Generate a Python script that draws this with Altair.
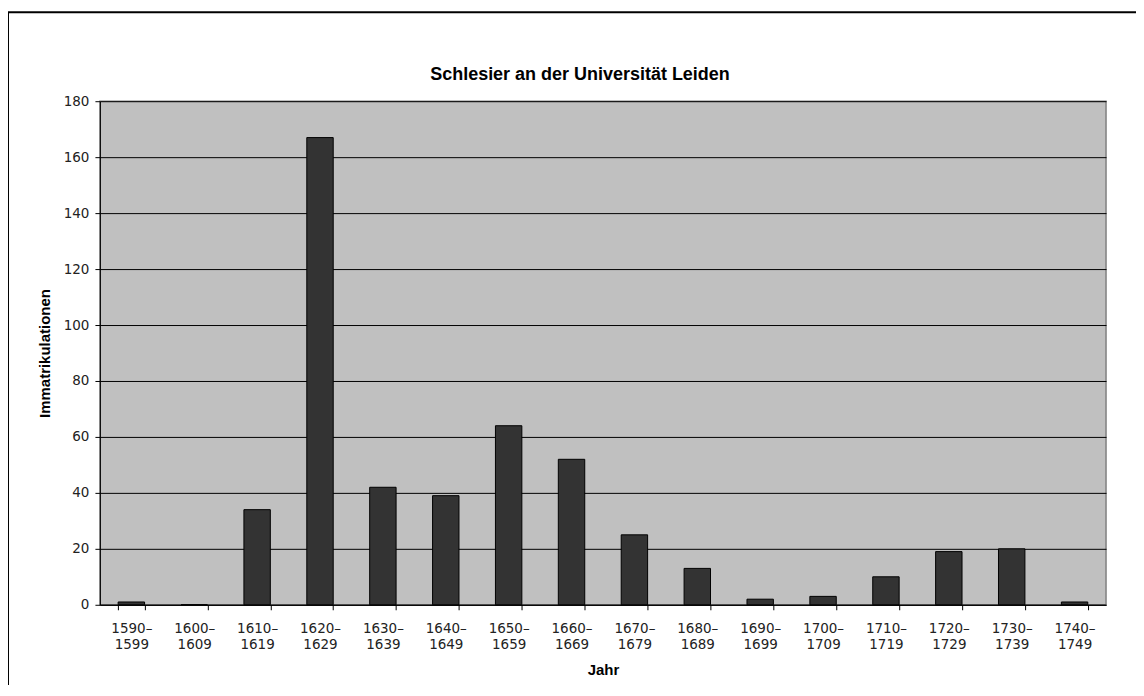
import altair as alt
import pandas as pd

categories = ["1590–1599", "1600–1609", "1610–1619", "1620–1629", "1630–1639",
              "1640–1649", "1650–1659", "1660–1669", "1670–1679", "1680–1689",
              "1690–1699", "1700–1709", "1710–1719", "1720–1729", "1730–1739",
              "1740–1749"]
values = [1, 0, 34, 167, 42, 39, 64, 52, 25, 13, 2, 3, 10, 19, 20, 1]
y_ticks = [0, 20, 40, 60, 80, 100, 120, 140, 160, 180]
title_text = "Schlesier an der Universität Leiden"

df = pd.DataFrame({"Jahr": categories, "Immatrikulationen": values})

W, H = 1007, 504

bars = alt.Chart(df).mark_bar(color="#333333", stroke="#000000", strokeWidth=1).encode(
    x=alt.X("Jahr:N", sort=categories,
            scale=alt.Scale(paddingInner=0.58, paddingOuter=0.29),
            axis=alt.Axis(title="Jahr", labelAngle=0,
                          labelExpr="[substring(datum.label,0,5), substring(datum.label,5)]",
                          labelFont="DejaVu Sans", labelFontSize=13.5, labelColor="#222222",
                          labelLineHeight=16, labelPadding=12,
                          tickBand="extent", tickSize=5, tickColor="#000000",
                          domainColor="#000000", grid=False,
                          titleFont="Liberation Sans", titleFontSize=15, titleFontWeight="bold",
                          titleColor="#000000", titleY=65, titleBaseline="middle")),
    y=alt.Y("Immatrikulationen:Q",
            scale=alt.Scale(domain=[0, 180], nice=False),
            axis=alt.Axis(title="Immatrikulationen", values=y_ticks,
                          labelFont="DejaVu Sans", labelFontSize=13.5, labelColor="#222222",
                          labelPadding=6, tickSize=5, tickColor="#000000",
                          domainColor="#000000", gridColor="#000000", gridWidth=1,
                          titleFont="Liberation Sans", titleFontSize=15, titleFontWeight="bold",
                          titleColor="#000000", titleX=-55, titleY=H / 2,
                          titleAngle=-90, titleBaseline="middle", titleAlign="center")),
)

frame_df = pd.DataFrame({"a": [0]})
frame_left = alt.Chart(frame_df).mark_rule(color="#000000", strokeWidth=2).encode(
    x=alt.value(-92), y=alt.value(-89), y2=alt.value(H + 120))
frame_top = alt.Chart(frame_df).mark_rule(color="#000000", strokeWidth=2).encode(
    x=alt.value(-92), x2=alt.value(W + 60), y=alt.value(-89))
title_mark = alt.Chart(frame_df).mark_text(
    font="Liberation Sans", fontSize=18, fontWeight="bold", color="#000000",
    align="center", baseline="middle").encode(
    x=alt.value(W / 2 - 23), y=alt.value(-26), text=alt.value(title_text))

chart = alt.layer(frame_left, frame_top, title_mark, bars).properties(
    width=W, height=H,
    autosize=alt.AutoSizeParams(type="none"),
    padding={"left": 92, "top": 93, "right": 30, "bottom": 80},
).configure(background="#FFFFFF").configure_view(fill="#C0C0C0", stroke="#808080", strokeWidth=1.5)

chart.save("out.html", embed_options={"renderer": "svg", "actions": False})
